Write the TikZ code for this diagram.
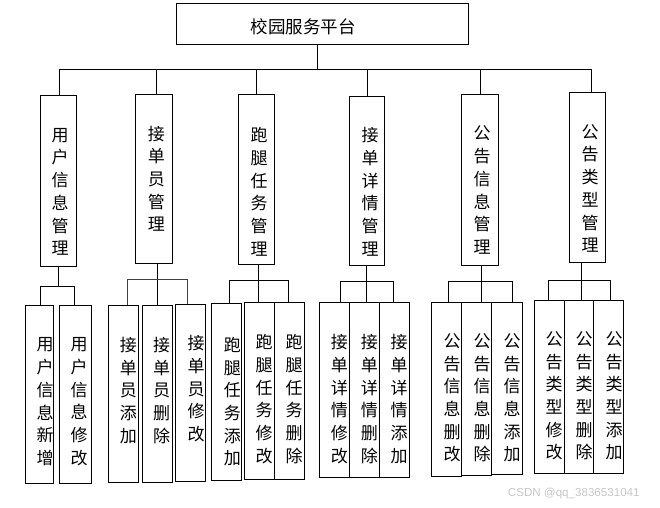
\documentclass[tikz,border=0pt]{standalone}
\usepackage{fontspec}
\newfontfamily\cjk{Noto Sans CJK SC}
\newfontfamily\wmfont{Liberation Sans}
\begin{document}
\begin{tikzpicture}[x=1pt,y=-1pt,
  box/.style={draw,line width=1pt,inner sep=0pt},
  vt/.style={font=\cjk\fontsize{17}{22.7}\selectfont,align=center,inner sep=0pt},
  conn/.style={line width=1pt}]
\useasboundingbox (0,0) rectangle (660,507);
% root
\node[box,minimum width=291.6,minimum height=41] (root) at (322.5,23.8) {};
\node[inner sep=0pt,font=\cjk\fontsize{17.5}{20}\selectfont] (roott) at (303,26.5) {校园服务平台};
% level 1
\node[box,minimum width=36,minimum height=171] (b1) at (58.3,180.8) {};
\node[box,minimum width=37,minimum height=169] (b2) at (153.8,178.8) {};
\node[box,minimum width=36,minimum height=170] (b3) at (256.3,179.3) {};
\node[box,minimum width=35,minimum height=169] (b4) at (366.8,180.8) {};
\node[box,minimum width=37,minimum height=171] (b5) at (479.8,179.8) {};
\node[box,minimum width=36,minimum height=170] (b6) at (587.3,177.3) {};
\node[vt] (b1t) at (60,191.8) {用\\户\\信\\息\\管\\理};
\node[vt] (b2t) at (156.3,178.8) {接\\单\\员\\管\\理};
\node[vt] (b3t) at (259,191.8) {跑\\腿\\任\\务\\管\\理};
\node[vt] (b4t) at (370,191.8) {接\\单\\详\\情\\管\\理};
\node[vt] (b5t) at (482,190.1) {公\\告\\信\\息\\管\\理};
\node[vt] (b6t) at (590,188.4) {公\\告\\类\\型\\管\\理};
% level 2
\node[box,minimum width=28,minimum height=178] (A) at (39.3,394.3) {};
\node[box,minimum width=32,minimum height=178] (B) at (75.3,394.3) {};
\node[box,minimum width=30,minimum height=177] (C) at (123.3,393.8) {};
\node[box,minimum width=30,minimum height=177] (D) at (157.3,393.8) {};
\node[box,minimum width=30,minimum height=177] (E) at (190.3,392.8) {};
\node[box,minimum width=29.6,minimum height=176.7] (F) at (226.5,391.7) {};
\node[box,minimum width=29.6,minimum height=176.7] (G) at (259.5,390.7) {};
\node[box,minimum width=30,minimum height=176.7] (H) at (289.3,390.7) {};
\node[box,minimum width=30,minimum height=175] (I) at (334.3,389.8) {};
\node[box,minimum width=30,minimum height=175] (J) at (364.3,389.8) {};
\node[box,minimum width=30,minimum height=175] (K) at (394.3,389.8) {};
\node[box,minimum width=30.4,minimum height=173.7] (L) at (446.5,389.2) {};
\node[box,minimum width=30,minimum height=172.7] (M) at (476.7,388.7) {};
\node[box,minimum width=30.6,minimum height=171.7] (N) at (507,388.2) {};
\node[box,minimum width=30,minimum height=173.3] (O) at (549.3,387.3) {};
\node[box,minimum width=29,minimum height=173.3] (P) at (578.8,387.3) {};
\node[box,minimum width=30,minimum height=173.3] (Q) at (608.3,387.3) {};
\node[vt] (At) at (45,401.8) {用\\户\\信\\息\\新\\增};
\node[vt] (Bt) at (79,401.8) {用\\户\\信\\息\\修\\改};
\node[vt] (Ct) at (128.3,390.5) {接\\单\\员\\添\\加};
\node[vt] (Dt) at (161.7,390.5) {接\\单\\员\\删\\除};
\node[vt] (Et) at (196,388.8) {接\\单\\员\\修\\改};
\node[vt] (Ft) at (232.3,401.8) {跑\\腿\\任\\务\\添\\加};
\node[vt] (Gt) at (264,399.1) {跑\\腿\\任\\务\\修\\改};
\node[vt] (Ht) at (294,399.1) {跑\\腿\\任\\务\\删\\除};
\node[vt] (It) at (339.3,399.1) {接\\单\\详\\情\\修\\改};
\node[vt] (Jt) at (369.3,399.1) {接\\单\\详\\情\\删\\除};
\node[vt] (Kt) at (399,399.1) {接\\单\\详\\情\\添\\加};
\node[vt] (Lt) at (452,397.8) {公\\告\\信\\息\\删\\改};
\node[vt] (Mt) at (482,397.8) {公\\告\\信\\息\\删\\除};
\node[vt] (Nt) at (512,397.8) {公\\告\\信\\息\\添\\加};
\node[vt] (Ot) at (554,395.8) {公\\告\\类\\型\\修\\改};
\node[vt] (Pt) at (584,395.8) {公\\告\\类\\型\\删\\除};
\node[vt] (Qt) at (614,395.8) {公\\告\\类\\型\\添\\加};
% level 1 connectors
\coordinate (bus1) at (0,69.3);
\draw[conn] ([xshift=-5.2]root.south) -- ([xshift=-5.2]root.south |- bus1);
\draw[conn] ([xshift=1]b1.north) |- ([xshift=4]b6.north |- bus1) -- ([xshift=4]b6.north);
\draw[conn] ([xshift=2.5]b2.north) -- ([xshift=2.5]b2.north |- bus1);
\draw[conn] (b3.north) -- (b3.north |- bus1);
\draw[conn] ([xshift=0.5]b4.north) -- ([xshift=0.5]b4.north |- bus1);
\draw[conn] ([xshift=0.5]b5.north) -- ([xshift=0.5]b5.north |- bus1);
% group 1
\coordinate (g1) at (0,286);
\draw[conn] (b1.south) -- (b1.south |- g1);
\draw[conn] ([xshift=1.4]A.north) |- ([xshift=-1.3]B.north |- g1) -- ([xshift=-1.3]B.north);
% group 2
\coordinate (g2) at (0,279.3);
\draw[conn] ([xshift=3.5]b2.south) -- (D.north);
\draw[conn,draw=black!75] ([xshift=4]C.north) |- ([xshift=-2.6]E.north |- g2) -- ([xshift=-2.6]E.north);
% group 3
\coordinate (g3) at (0,280.7);
\draw[conn] ([xshift=2]b3.south) -- ([xshift=-1.2]G.north);
\draw[conn] ([xshift=2.8]F.north) |- ([xshift=-1]H.north |- g3) -- ([xshift=-1]H.north);
% group 4
\coordinate (g4) at (0,281.3);
\draw[conn] ([xshift=-0.8]b4.south) -- ([xshift=1.7]J.north);
\draw[conn] ([xshift=6.4]I.north) |- ([xshift=-1]K.north |- g4) -- ([xshift=-1]K.north);
% group 5
\coordinate (g5) at (0,281.3);
\draw[conn] ([xshift=1.5]b5.south) -- ([xshift=4.6]M.north);
\draw[conn] ([xshift=1.8]L.north) |- ([xshift=5.3]N.north |- g5) -- ([xshift=5.3]N.north);
% group 6
\coordinate (g6) at (0,280.7);
\draw[conn] ([xshift=-6]b6.south) -- ([xshift=2.5]P.north);
\draw[conn] ([xshift=-1]O.north) |- ([xshift=2.4]Q.north |- g6) -- ([xshift=2.4]Q.north);
% watermark
\node[anchor=west,inner sep=0pt,font=\wmfont\fontsize{11.6}{13}\selectfont,text=black!22] (wm) at (507.7,493.3) {CSDN @qq\_3836531041};
\end{tikzpicture}
\end{document}
